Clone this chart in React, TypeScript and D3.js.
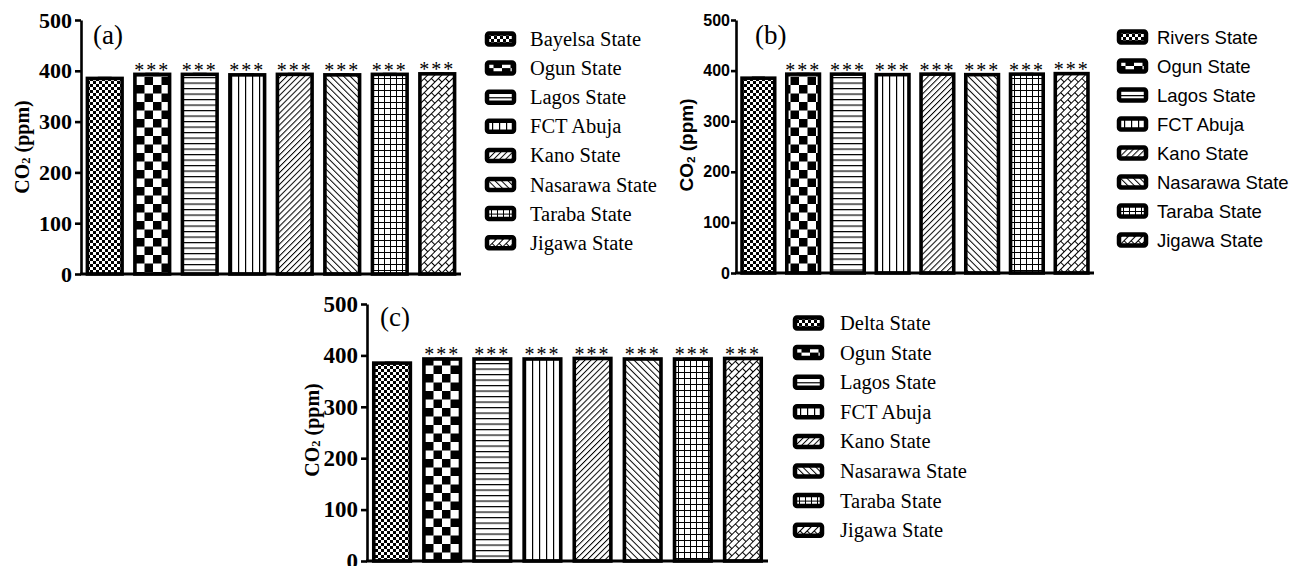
import { useEffect, useRef } from 'react';
import * as d3 from 'd3';

const statesA = ['Bayelsa State', 'Ogun State', 'Lagos State', 'FCT Abuja', 'Kano State', 'Nasarawa State', 'Taraba State', 'Jigawa State'];
const statesB = ['Rivers State', 'Ogun State', 'Lagos State', 'FCT Abuja', 'Kano State', 'Nasarawa State', 'Taraba State', 'Jigawa State'];
const statesC = ['Delta State', 'Ogun State', 'Lagos State', 'FCT Abuja', 'Kano State', 'Nasarawa State', 'Taraba State', 'Jigawa State'];

const co2A = [385, 393, 393, 392, 393, 392, 393, 394];
const co2B = [385, 393, 393, 392, 393, 392, 393, 394];
const co2C = [385, 393, 393, 393, 394, 393, 393, 394];
const errA = [1.2, 1.0, 1.0, 1.0, 1.0, 1.0, 1.0, 1.0];
const errB = [1.2, 1.0, 1.0, 1.0, 1.0, 1.0, 1.0, 1.0];
const errC = [1.2, 1.0, 1.0, 1.0, 1.0, 1.0, 1.0, 1.0];
const sig = ['', '***', '***', '***', '***', '***', '***', '***'];
const yTicks = [0, 100, 200, 300, 400, 500];

const SERIF = '"Liberation Serif", "Times New Roman", serif';
const SANS = '"Liberation Sans", Arial, sans-serif';

interface PanelCfg {
  label: string;
  states: string[];
  values: number[];
  errors: number[];
  font: string;
  tickFont: number;
  titleFont: number;
  legendFont: string;
  legendSize: number;
  x0: number; x1: number; yTop: number; yBottom: number;
  tickSize: number; tickPad: number;
  labelX: number; labelY: number;
  titleX: number; titleY: number;
  legendX: number; legendY: number; legendStep: number; legendTextDx: number;
}

const panels: PanelCfg[] = [
  {
    label: '(a)', states: statesA, values: co2A, errors: errA,
    font: SERIF, tickFont: 22, titleFont: 20, legendFont: SERIF, legendSize: 20.5,
    x0: 81, x1: 461, yTop: 20, yBottom: 274, tickSize: 6, tickPad: 3,
    labelX: 93, labelY: 44, titleX: 22, titleY: 147,
    legendX: 485, legendY: 39, legendStep: 29.1, legendTextDx: 45,
  },
  {
    label: '(b)', states: statesB, values: co2B, errors: errB,
    font: SANS, tickFont: 16, titleFont: 19, legendFont: SANS, legendSize: 18.5,
    x0: 736, x1: 1094, yTop: 20, yBottom: 273, tickSize: 5, tickPad: 1,
    labelX: 755, labelY: 44, titleX: 686, titleY: 145,
    legendX: 1117, legendY: 37, legendStep: 29, legendTextDx: 40,
  },
  {
    label: '(c)', states: statesC, values: co2C, errors: errC,
    font: SERIF, tickFont: 23, titleFont: 20, legendFont: SERIF, legendSize: 20.5,
    x0: 367, x1: 768, yTop: 304, yBottom: 561, tickSize: 6, tickPad: 3,
    labelX: 380, labelY: 326, titleX: 312, titleY: 430,
    legendX: 793, legendY: 323, legendStep: 29.6, legendTextDx: 47,
  },
];

function addPatterns(defs: d3.Selection<SVGDefsElement, unknown, null, undefined>) {
  const mk = (id: string, w: number, h: number, transform?: string) => {
    const p = defs.append('pattern').attr('id', id)
      .attr('patternUnits', 'userSpaceOnUse')
      .attr('width', w).attr('height', h);
    if (transform) p.attr('patternTransform', transform);
    p.append('rect').attr('width', w).attr('height', h).attr('fill', '#fff');
    return p;
  };
  // fine checkerboard
  let p = mk('pat0', 6, 6);
  p.append('rect').attr('width', 3).attr('height', 3).attr('fill', '#000');
  p.append('rect').attr('x', 3).attr('y', 3).attr('width', 3).attr('height', 3).attr('fill', '#000');
  // big checkerboard
  p = mk('pat1', 17, 17);
  p.append('rect').attr('width', 8.5).attr('height', 8.5).attr('fill', '#000');
  p.append('rect').attr('x', 8.5).attr('y', 8.5).attr('width', 8.5).attr('height', 8.5).attr('fill', '#000');
  // horizontal lines
  p = mk('pat2', 8, 5.5);
  p.append('line').attr('x1', 0).attr('x2', 8).attr('y1', 0.6).attr('y2', 0.6).attr('stroke', '#000').attr('stroke-width', 1.2);
  // vertical lines
  p = mk('pat3', 7, 8);
  p.append('line').attr('x1', 0.6).attr('x2', 0.6).attr('y1', 0).attr('y2', 8).attr('stroke', '#000').attr('stroke-width', 1.2);
  // "/" diagonals
  p = mk('pat4', 4.2, 8, 'rotate(45)');
  p.append('line').attr('x1', 0.5).attr('x2', 0.5).attr('y1', 0).attr('y2', 8).attr('stroke', '#000').attr('stroke-width', 1);
  // "\" diagonals
  p = mk('pat5', 4.6, 8, 'rotate(-45)');
  p.append('line').attr('x1', 0.5).attr('x2', 0.5).attr('y1', 0).attr('y2', 8).attr('stroke', '#000').attr('stroke-width', 1);
  // grid
  p = mk('pat6', 6, 6);
  p.append('line').attr('x1', 0.5).attr('x2', 0.5).attr('y1', 0).attr('y2', 6).attr('stroke', '#000').attr('stroke-width', 1);
  p.append('line').attr('x1', 0).attr('x2', 6).attr('y1', 0.5).attr('y2', 0.5).attr('stroke', '#000').attr('stroke-width', 1);
  // diagonal bricks
  p = mk('pat7', 10, 10, 'rotate(45)');
  p.append('line').attr('x1', 0.5).attr('x2', 0.5).attr('y1', 0).attr('y2', 10).attr('stroke', '#000').attr('stroke-width', 1);
  p.append('line').attr('x1', 5.5).attr('x2', 5.5).attr('y1', 0).attr('y2', 10).attr('stroke', '#000').attr('stroke-width', 1);
  p.append('line').attr('x1', 0).attr('x2', 5).attr('y1', 0.5).attr('y2', 0.5).attr('stroke', '#000').attr('stroke-width', 1);
  p.append('line').attr('x1', 5).attr('x2', 10).attr('y1', 5.5).attr('y2', 5.5).attr('stroke', '#000').attr('stroke-width', 1);
}

function drawPanel(svg: d3.Selection<SVGSVGElement, unknown, null, undefined>, c: PanelCfg) {
  const g = svg.append('g');
  const y = d3.scaleLinear().domain([0, 500]).range([c.yBottom, c.yTop]);
  const x = d3.scaleBand<string>().domain(c.states).range([c.x0, c.x1])
    .paddingInner(0.27).paddingOuter(0.135);

  // bars
  g.selectAll('.bar').data(c.values).enter().append('rect')
    .attr('x', (_, i) => x(c.states[i])!)
    .attr('y', d => y(d))
    .attr('width', x.bandwidth())
    .attr('height', d => y(0) - y(d))
    .attr('fill', (_, i) => `url(#pat${i})`)
    .attr('stroke', '#000')
    .attr('stroke-width', 3.6);

  // error caps
  g.selectAll('.err').data(c.values).enter().append('path')
    .attr('d', (d, i) => {
      const cx = x(c.states[i])! + x.bandwidth() / 2;
      const hw = x.bandwidth() * 0.2;
      const t = y(d + c.errors[i]);
      return `M${cx},${y(d)}V${t}M${cx - hw},${t}H${cx + hw}`;
    })
    .attr('stroke', '#000').attr('stroke-width', 2).attr('fill', 'none');

  // significance stars
  g.selectAll('.sig').data(c.values).enter().append('text')
    .attr('x', (_, i) => x(c.states[i])! + x.bandwidth() / 2)
    .attr('y', (d, i) => y(d + c.errors[i]) + 3)
    .attr('text-anchor', 'middle')
    .attr('font-family', SERIF)
    .attr('font-size', 20)
    .attr('letter-spacing', 2)
    .attr('fill', '#000')
    .text((_, i) => sig[i]);

  // y axis
  const ax = g.append('g').attr('transform', `translate(${c.x0},0)`)
    .call(d3.axisLeft(y).tickValues(yTicks).tickSize(c.tickSize).tickSizeOuter(0).tickPadding(c.tickPad));
  ax.select('.domain').attr('stroke-width', 2.6);
  ax.selectAll('.tick line').attr('stroke-width', 2.6);
  ax.selectAll('.tick text')
    .attr('font-family', c.font).attr('font-weight', 'bold')
    .attr('font-size', c.tickFont).attr('fill', '#000');

  // x axis baseline
  g.append('line')
    .attr('x1', c.x0 - 1).attr('x2', c.x1)
    .attr('y1', y(0)).attr('y2', y(0))
    .attr('stroke', '#000').attr('stroke-width', 3);

  // axis title
  const t = g.append('text')
    .attr('transform', `translate(${c.titleX},${c.titleY}) rotate(-90)`)
    .attr('text-anchor', 'middle')
    .attr('dominant-baseline', 'central')
    .attr('font-family', c.font).attr('font-weight', 'bold')
    .attr('font-size', c.titleFont);
  t.append('tspan').text('CO');
  t.append('tspan').attr('font-size', c.titleFont * 0.62).attr('dy', 4).text('2');
  t.append('tspan').attr('dy', -4).text(' (ppm)');

  // panel label
  g.append('text')
    .attr('x', c.labelX).attr('y', c.labelY)
    .attr('font-family', SERIF).attr('font-size', 27)
    .text(c.label);

  // legend
  const lg = g.append('g');
  const item = lg.selectAll('.item').data(c.states).enter().append('g')
    .attr('transform', (_, i) => `translate(${c.legendX},${c.legendY + i * c.legendStep})`);
  item.append('rect')
    .attr('x', 2).attr('y', -5.5)
    .attr('width', 27).attr('height', 11).attr('rx', 2)
    .attr('fill', (_, i) => `url(#pat${i})`)
    .attr('stroke', '#000').attr('stroke-width', 4.5);
  item.append('text')
    .attr('x', c.legendTextDx).attr('y', 0)
    .attr('dominant-baseline', 'central')
    .attr('font-family', c.legendFont)
    .attr('font-size', c.legendSize)
    .attr('fill', '#000')
    .text(d => d);
}

export default function App() {
  const svgRef = useRef<SVGSVGElement>(null);

  useEffect(() => {
    if (!svgRef.current) return;
    const svg = d3.select(svgRef.current);
    svg.selectAll('*').remove();
    addPatterns(svg.append('defs'));
    panels.forEach(p => drawPanel(svg, p));
  }, []);

  return (
    <svg ref={svgRef} width={1293} height={566}
      style={{ position: 'absolute', left: 0, top: 0, background: '#fff' }} />
  );
}
